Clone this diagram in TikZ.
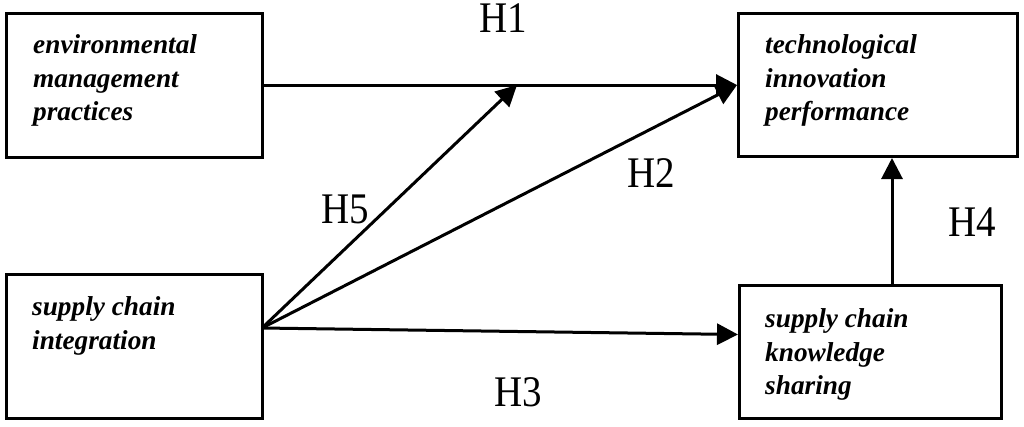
\documentclass[tikz,border=0pt]{standalone}
\usepackage{fontspec}
\setmainfont{Liberation Serif}
\usetikzlibrary{arrows.meta,calc}
\newcommand{\hlab}[1]{\scalebox{1}[1.12]{#1}}
\begin{document}
\begin{tikzpicture}[x=1pt,y=-1pt,
  box/.style={draw,line width=3pt,anchor=north west,inner sep=0pt},
  boxtext/.style={anchor=north west,inner sep=0pt,align=left,
    font=\fontsize{27.3}{33.5}\selectfont\bfseries\itshape},
  hyp/.style={inner sep=0pt,font=\fontsize{39}{46}\selectfont},
  arr/.style={line width=3pt,-{Triangle[length=21pt,width=21pt]}}]
\useasboundingbox (0,0) rectangle (1024,426);
% boxes
\node[box,minimum width=256pt,minimum height=144pt] (emp) at (5,12) {};
\node[box,minimum width=279pt,minimum height=143pt] (tip) at (737,12) {};
\node[box,minimum width=256pt,minimum height=144pt] (sci) at (5,273) {};
\node[box,minimum width=262pt,minimum height=133pt] (scks) at (738,284) {};
% texts
\node[boxtext] (empt) at (33,34.5) {environmental\\management\\practices};
\node[boxtext] (tipt) at (765,34.5) {technological\\innovation\\performance};
\node[boxtext] (scit) at (32,296.5) {supply chain\\integration};
\node[boxtext] (sckst) at (765,308.5) {supply chain\\knowledge\\sharing};
% connector points
\coordinate (src) at (262,328);
\coordinate (mid) at (517,85);
\coordinate (h4s) at (892,284);
% arrows
\draw[arr] (emp.east |- mid) -- (tip.west |- mid);
\draw[arr] (src) -- (mid);
\draw[arr] (src) -- (tip.west);
\draw[arr] (src) -- ([yshift=17.5pt]scks.west);
\draw[arr] (h4s) -- (h4s |- tip.south);
% labels
\node[hyp] (h1) at (503,18) {\hlab{H1}};
\node[hyp] (h2) at (651,173) {\hlab{H2}};
\node[hyp] (h3) at (518,392) {\hlab{H3}};
\node[hyp] (h4) at (972,222) {\hlab{H4}};
\node[hyp] (h5) at (345,209) {\hlab{H5}};
\end{tikzpicture}
\end{document}
